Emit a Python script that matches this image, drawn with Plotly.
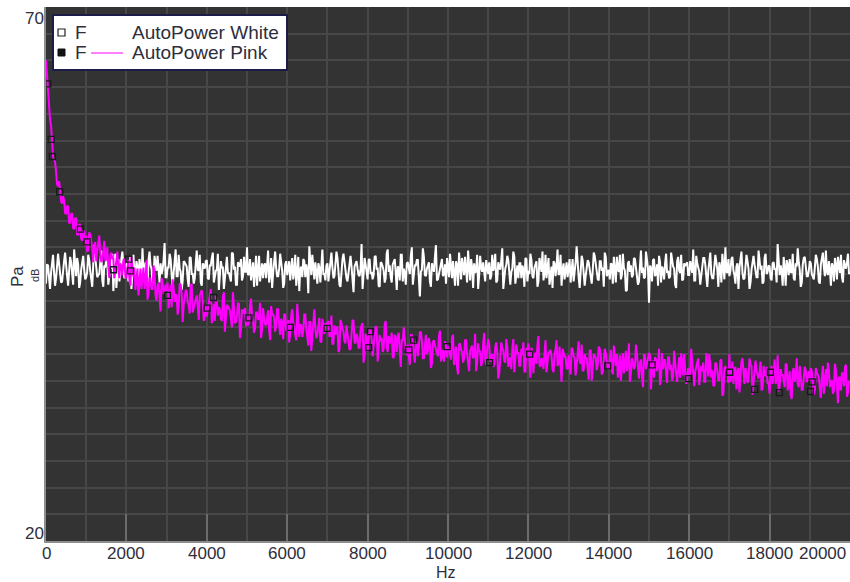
import plotly.graph_objects as go

# Spectrum sampling
FREQ_STEP_HZ = 25

# AutoPower of the white-noise channel (dB re Pa), one value per 25 Hz bin
white_db = [
    44.1, 45.9, 45.8, 44.6, 43.6, 45.1, 46.4, 46.8, 45.2, 43.9, 44.6, 45.7, 46.9, 46.0, 45.0, 44.2, 44.3, 45.6, 46.2, 47.0,
    45.5, 44.8, 43.9, 45.3, 46.6, 46.1, 45.1, 44.0, 47.3, 45.8, 44.8, 46.5, 45.9, 43.7, 44.2, 45.4, 46.3, 46.7, 45.4, 44.5,
    44.7, 45.2, 46.8, 46.3, 45.3, 44.1, 43.8, 45.9, 47.7, 46.6, 45.6, 44.7, 44.9, 45.0, 46.1, 47.2, 44.4, 43.8, 45.8, 45.6,
    46.5, 46.2, 44.0, 44.9, 45.7, 45.5, 46.9, 43.4, 45.2, 46.9, 43.7, 45.1, 46.4, 44.3, 45.0, 46.4, 47.1, 45.7, 44.6, 44.8,
    45.9, 46.0, 44.3, 45.3, 46.6, 43.6, 45.5, 46.8, 44.8, 44.9, 46.2, 45.7, 43.9, 46.4, 45.7, 44.4, 47.4, 45.2, 45.1, 46.1,
    44.5, 43.9, 46.3, 47.1, 45.8, 45.5, 44.1, 44.6, 46.7, 45.9, 45.3, 46.7, 44.9, 44.2, 46.0, 45.0, 45.4, 46.3, 47.9, 44.7,
    44.7, 45.6, 45.6, 46.9, 46.4, 44.3, 43.6, 45.1, 45.9, 47.3, 44.8, 44.8, 46.8, 45.5, 45.2, 43.5, 44.4, 46.2, 46.1, 45.8,
    45.7, 44.5, 43.8, 46.6, 46.5, 45.0, 45.0, 44.1, 44.6, 46.0, 47.2, 45.4, 45.3, 46.8, 44.2, 43.9, 46.0, 45.7, 45.5, 46.2,
    46.3, 44.6, 44.5, 45.8, 45.8, 46.5, 47.0, 44.2, 44.9, 45.3, 45.4, 46.9, 43.5, 44.8, 46.2, 45.6, 45.6, 43.6, 44.7, 46.3,
    46.6, 45.1, 45.1, 44.7, 44.3, 47.0, 46.9, 45.4, 45.7, 44.0, 44.0, 46.1, 45.9, 45.7, 46.4, 44.4, 44.8, 46.6, 45.2, 45.2,
    47.5, 44.9, 45.0, 46.4, 44.4, 45.2, 46.1, 43.8, 45.6, 46.7, 43.9, 45.5, 46.7, 44.3, 45.3, 46.0, 44.6, 45.8, 46.0, 44.6,
    45.8, 47.2, 44.2, 45.0, 46.5, 43.7, 45.1, 46.3, 47.1, 45.6, 44.8, 44.8, 45.5, 46.9, 46.3, 45.3, 43.7, 44.1, 45.9, 46.2,
    44.9, 45.7, 46.2, 44.4, 45.4, 46.5, 44.5, 45.1, 46.8, 43.9, 45.0, 46.6, 43.4, 45.4, 45.7, 44.7, 46.4, 46.2, 44.7, 45.9,
    45.3, 43.2, 47.6, 45.6, 44.9, 46.8, 45.8, 44.5, 46.1, 45.3, 44.1, 46.0, 45.6, 44.2, 46.6, 47.3, 45.0, 45.0, 44.4, 45.8,
    46.0, 44.3, 45.2, 46.1, 47.0, 45.6, 44.6, 44.8, 45.9, 47.1, 46.5, 45.2, 44.0, 43.8, 45.4, 46.4, 46.9, 45.9, 45.1, 44.6,
    44.3, 45.3, 46.3, 46.7, 45.7, 44.1, 43.3, 45.7, 46.1, 46.2, 45.5, 44.9, 44.8, 45.5, 47.8, 43.6, 45.0, 46.5, 45.9, 45.1,
    44.5, 46.3, 46.4, 45.0, 45.2, 44.5, 44.9, 46.6, 46.7, 45.4, 45.6, 43.9, 43.8, 46.1, 46.0, 45.7, 45.3, 44.2, 44.6, 46.9,
    47.3, 45.2, 45.8, 44.7, 44.2, 45.9, 46.2, 46.4, 45.1, 43.5, 45.7, 45.6, 44.4, 46.8, 46.8, 44.3, 45.5, 45.1, 44.0, 46.0,
    46.1, 45.4, 45.0, 46.7, 47.5, 44.0, 44.7, 45.8, 45.8, 46.3, 46.3, 44.6, 42.9, 45.2, 45.4, 47.4, 46.6, 44.9, 44.8, 45.5,
    45.9, 46.1, 44.3, 43.8, 46.0, 45.7, 45.2, 46.6, 47.7, 44.4, 44.5, 45.0, 45.6, 46.2, 46.4, 44.8, 45.0, 45.9, 44.1, 46.5,
    45.7, 44.7, 46.9, 45.5, 44.6, 46.2, 45.3, 43.9, 46.2, 45.8, 43.9, 47.0, 45.8, 44.5, 46.5, 45.3, 44.9, 46.6, 45.1, 44.2,
    47.2, 45.9, 44.4, 46.4, 45.6, 43.7, 46.0, 45.1, 45.3, 46.8, 43.6, 44.9, 46.7, 45.6, 45.2, 46.1, 44.8, 44.3, 46.3, 45.4,
    45.0, 46.1, 44.5, 44.8, 46.8, 45.3, 45.7, 46.9, 44.2, 44.4, 46.1, 45.7, 45.4, 46.3, 47.4, 43.6, 44.7, 45.5, 45.9, 46.7,
    46.3, 44.9, 44.0, 45.2, 45.5, 47.1, 46.6, 44.1, 45.1, 45.8, 44.6, 46.0, 46.0, 44.6, 45.8, 45.4, 43.8, 46.5, 46.4, 44.3,
    45.3, 45.0, 46.9, 46.3, 44.8, 44.6, 45.6, 45.9, 46.2, 43.8, 44.3, 46.5, 45.9, 45.2, 47.1, 44.4, 45.0, 46.8, 44.6, 45.6,
    46.5, 44.0, 45.2, 45.7, 43.7, 46.2, 46.0, 44.8, 45.7, 47.3, 44.9, 45.1, 46.8, 43.9, 45.4, 46.0, 44.5, 45.5, 46.1, 44.7,
    45.8, 46.4, 44.2, 45.2, 46.4, 44.3, 45.1, 46.1, 47.6, 45.6, 44.7, 43.7, 45.5, 46.7, 46.3, 45.0, 43.9, 44.8, 45.9, 46.3,
    46.1, 45.5, 44.6, 44.1, 45.3, 47.0, 46.7, 45.8, 45.0, 44.5, 44.4, 46.2, 46.2, 45.3, 45.6, 43.8, 47.0, 46.6, 44.8, 45.1,
    45.4, 44.5, 46.0, 45.9, 44.1, 46.6, 45.7, 44.2, 46.6, 45.4, 45.2, 46.8, 44.5, 44.9, 46.9, 45.6, 45.3, 43.4, 43.5, 46.0,
    46.2, 45.2, 45.8, 44.7, 44.9, 46.5, 46.4, 45.7, 45.1, 44.0, 44.3, 46.3, 47.2, 45.1, 45.6, 44.6, 44.7, 47.1, 46.1, 45.5,
    42.3, 45.8, 45.5, 44.3, 46.3, 46.4, 44.8, 45.0, 45.9, 43.9, 46.7, 46.1, 44.2, 45.7, 45.4, 44.5, 46.0, 46.9, 45.1, 45.3,
    44.6, 44.8, 47.0, 46.2, 45.7, 45.5, 44.0, 43.7, 46.2, 46.6, 45.3, 45.1, 46.8, 44.4, 44.5, 46.0, 45.8, 45.9, 46.1, 44.9,
    44.9, 46.2, 45.6, 45.1, 47.3, 44.4, 44.4, 46.7, 46.0, 45.5, 45.2, 44.0, 44.7, 45.9, 46.5, 46.5, 45.9, 44.8, 43.8, 45.3,
    46.3, 47.0, 45.0, 44.6, 44.6, 45.8, 46.8, 46.1, 45.4, 43.8, 46.1, 45.6, 44.2, 46.9, 45.7, 44.5, 47.5, 45.2, 45.1, 46.4,
    44.8, 45.3, 46.4, 46.6, 45.3, 44.9, 44.1, 45.7, 46.0, 43.6, 45.6, 46.3, 47.1, 45.1, 44.5, 44.6, 45.9, 46.8, 46.2, 45.5,
    43.6, 44.2, 45.4, 46.0, 46.7, 45.9, 45.0, 44.7, 44.7, 47.2, 46.3, 45.4, 45.8, 44.1, 44.3, 46.5, 46.9, 45.0, 45.2, 45.8,
    45.7, 44.6, 44.4, 46.0, 46.1, 45.4, 45.5, 44.2, 47.8, 46.7, 44.9, 45.8, 45.3, 43.9, 46.6, 45.5, 43.9, 46.3, 45.8, 44.9,
    46.4, 45.2, 45.1, 46.9, 44.6, 44.4, 46.0, 45.7, 47.4, 46.1, 45.4, 43.8, 44.2, 45.9, 46.5, 46.6, 45.9, 44.8, 44.8, 45.3,
    46.2, 46.0, 45.0, 44.7, 44.5, 45.6, 46.8, 46.4, 45.7, 44.3, 44.1, 45.9, 46.3, 47.0, 45.6, 44.8, 47.2, 45.2, 44.9, 46.2,
    45.4, 43.9, 46.0, 45.7, 44.3, 46.5, 45.8, 44.5, 46.6, 45.4, 45.1, 46.8, 44.7, 44.2, 46.3, 45.8, 45.5, 46.1, 46.9, 45.0,
    45.2,
]

# AutoPower of the pink-noise channel (dB re Pa), one value per 25 Hz bin
pink_db = [
    65.0, 63.6, 62.1, 60.2, 59.5, 58.9, 57.2, 56.0, 55.7, 55.5, 54.6, 53.4, 53.2, 53.7, 52.9, 51.8, 51.6, 52.3, 51.9, 50.7,
    50.6, 51.4, 51.3, 49.8, 49.8, 50.6, 50.7, 49.3, 49.2, 50.2, 50.2, 48.7, 48.7, 49.6, 49.6, 48.3, 48.1, 49.1, 48.9, 47.6,
    48.6, 47.1, 47.2, 48.9, 48.7, 48.0, 47.4, 46.1, 47.7, 48.0, 46.2, 47.1, 47.9, 48.6, 47.1, 46.1, 46.4, 47.0, 48.1, 46.2,
    46.4, 47.5, 45.7, 44.6, 46.8, 47.0, 46.4, 46.5, 44.6, 45.7, 46.8, 47.1, 45.5, 44.6, 46.0, 45.7, 44.9, 46.3, 46.4, 44.7,
    44.7, 45.7, 46.3, 44.4, 43.9, 46.6, 45.2, 44.7, 45.6, 43.5, 44.5, 45.5, 43.0, 44.9, 45.5, 43.6, 44.8, 45.6, 43.6, 44.3,
    46.3, 42.6, 43.2, 44.7, 44.2, 43.6, 43.6, 45.8, 45.1, 43.0, 42.5, 43.9, 44.2, 42.6, 41.5, 44.6, 44.3, 43.1, 43.4, 44.0,
    43.4, 44.2, 41.8, 42.8, 44.0, 41.9, 44.5, 43.7, 42.4, 43.1, 43.0, 41.2, 41.9, 44.1, 44.0, 43.2, 40.5, 42.1, 43.1, 43.5,
    43.4, 42.3, 42.1, 41.3, 44.0, 44.0, 41.4, 41.9, 42.1, 42.6, 43.0, 41.3, 40.7, 43.0, 43.2, 43.5, 42.4, 40.6, 41.2, 42.1,
    41.0, 41.8, 42.3, 42.8, 43.6, 40.4, 41.3, 42.2, 40.6, 43.0, 42.6, 41.1, 41.9, 41.7, 40.8, 40.6, 42.9, 43.3, 39.6, 41.1,
    42.1, 42.0, 41.7, 41.6, 40.8, 40.0, 43.3, 42.1, 40.4, 40.5, 41.1, 42.3, 42.2, 39.0, 39.8, 41.6, 41.6, 41.3, 41.8, 40.1,
    41.1, 40.2, 40.4, 42.0, 42.7, 41.2, 40.6, 39.5, 39.9, 41.4, 41.4, 40.7, 41.0, 42.3, 39.0, 39.8, 41.8, 40.9, 40.3, 40.2,
    41.1, 41.6, 39.8, 38.8, 42.0, 41.2, 41.2, 40.9, 39.6, 40.2, 41.7, 41.7, 40.2, 39.3, 40.8, 40.5, 38.9, 41.2, 41.2, 39.7,
    40.0, 40.7, 38.6, 39.5, 41.1, 41.7, 40.5, 39.9, 39.4, 38.8, 42.2, 40.8, 39.1, 40.3, 40.2, 39.1, 39.7, 41.2, 41.2, 39.9,
    38.7, 38.3, 40.5, 40.5, 37.8, 39.4, 40.7, 41.7, 39.9, 39.0, 39.3, 39.9, 40.9, 38.7, 38.6, 40.8, 40.0, 39.4, 40.4, 40.3,
    40.4, 40.6, 39.2, 39.2, 41.1, 38.4, 38.5, 40.2, 39.3, 39.6, 40.1, 37.7, 37.9, 40.7, 40.4, 39.8, 39.6, 38.7, 38.5, 40.2,
    39.4, 39.0, 37.9, 38.0, 40.1, 40.7, 40.6, 38.6, 38.5, 39.4, 39.1, 38.1, 38.1, 39.8, 40.2, 40.4, 36.7, 37.5, 39.4, 39.0,
    37.7, 38.7, 39.8, 39.8, 39.0, 37.3, 38.0, 39.2, 40.1, 40.0, 36.8, 38.1, 39.3, 38.7, 39.0, 37.7, 38.0, 40.3, 40.6, 38.2,
    37.7, 39.2, 38.5, 38.7, 39.5, 37.2, 37.2, 39.3, 39.0, 37.7, 39.2, 39.5, 37.4, 36.3, 38.8, 38.8, 40.0, 38.6, 37.8, 37.4,
    38.4, 37.4, 36.5, 39.3, 39.3, 38.5, 37.7, 36.7, 38.6, 38.7, 37.3, 38.0, 39.5, 39.6, 38.8, 37.1, 37.1, 38.2, 39.3, 37.5,
    37.8, 39.0, 38.4, 36.2, 36.6, 38.6, 38.8, 38.3, 38.0, 37.6, 37.3, 39.2, 39.7, 36.8, 37.5, 37.9, 36.8, 38.7, 38.4, 37.2,
    37.9, 38.2, 37.4, 37.0, 39.0, 39.3, 36.5, 37.4, 38.2, 36.3, 35.6, 38.4, 38.5, 37.9, 37.7, 36.7, 37.1, 38.8, 38.8, 37.5,
    36.4, 35.9, 37.8, 38.1, 38.3, 37.1, 37.3, 39.4, 35.9, 36.7, 38.5, 37.7, 37.8, 36.4, 36.7, 38.5, 39.5, 37.1, 36.5, 38.1,
    38.9, 38.4, 36.8, 37.1, 37.5, 36.3, 36.5, 38.1, 38.6, 37.6, 35.2, 35.7, 37.8, 38.6, 38.1, 37.8, 36.9, 36.7, 38.9, 38.2,
    36.3, 37.1, 37.1, 36.1, 38.0, 38.9, 35.8, 36.8, 38.4, 37.6, 37.6, 36.4, 36.4, 38.0, 37.4, 38.6, 35.9, 35.8, 38.1, 37.3,
    38.5, 37.0, 35.3, 38.1, 37.8, 35.7, 37.5, 37.6, 36.6, 38.4, 39.2, 36.5, 36.3, 37.1, 37.0, 36.1, 38.1, 38.8, 35.8, 36.7,
    37.6, 37.7, 37.9, 37.3, 36.1, 35.8, 37.5, 37.9, 38.8, 36.4, 36.6, 38.2, 35.9, 34.9, 38.0, 37.5, 37.2, 37.3, 36.2, 36.1,
    37.4, 36.2, 35.6, 38.1, 37.9, 37.3, 37.1, 35.5, 36.3, 37.5, 38.7, 36.8, 36.6, 38.4, 35.9, 36.0, 37.5, 37.1, 37.1, 36.3,
    35.1, 37.8, 37.9, 35.0, 36.4, 37.5, 37.3, 37.2, 36.0, 36.5, 38.2, 38.0, 37.4, 35.6, 35.8, 36.8, 38.0, 37.6, 36.5, 36.1,
    36.2, 37.2, 37.9, 36.0, 35.6, 38.3, 37.0, 36.4, 37.5, 35.3, 36.4, 37.4, 35.0, 36.9, 37.6, 35.7, 37.0, 37.8, 35.9, 36.5,
    38.5, 34.9, 35.7, 37.1, 36.8, 36.1, 36.3, 38.4, 37.5, 35.7, 35.2, 36.7, 37.0, 35.4, 34.4, 37.5, 37.3, 36.1, 36.5, 37.1,
    37.6, 37.4, 34.2, 36.1, 36.9, 35.3, 37.2, 37.0, 35.9, 36.5, 38.0, 34.6, 35.3, 37.6, 36.1, 36.8, 37.0, 35.7, 34.8, 37.2,
    37.2, 36.0, 36.5, 35.0, 35.4, 37.8, 36.4, 35.7, 34.9, 36.5, 37.2, 35.3, 37.6, 36.9, 35.5, 37.5, 36.2, 34.7, 35.2, 36.2,
    35.4, 35.8, 38.0, 36.9, 35.1, 34.5, 35.9, 36.3, 36.9, 37.1, 34.6, 35.3, 36.4, 35.9, 36.7, 34.9, 34.9, 37.6, 36.3, 35.4,
    37.5, 36.4, 35.3, 36.0, 34.6, 34.5, 36.7, 36.6, 36.0, 35.1, 35.0, 36.9, 37.0, 33.6, 33.8, 36.2, 36.3, 36.0, 36.0, 34.8,
    37.5, 34.9, 35.4, 36.8, 34.7, 36.0, 36.3, 34.2, 35.8, 36.2, 33.9, 35.5, 36.8, 37.1, 35.3, 34.7, 36.2, 35.8, 34.8, 35.0,
    37.1, 36.5, 36.4, 33.7, 34.8, 36.2, 36.9, 35.9, 35.5, 35.2, 35.8, 36.8, 34.1, 34.3, 36.4, 35.5, 35.5, 36.3, 34.8, 34.8,
    33.8, 35.9, 36.4, 34.7, 35.8, 37.0, 34.7, 35.2, 37.4, 34.0, 34.5, 36.1, 35.5, 35.6, 35.0, 34.4, 36.6, 36.5, 34.1, 35.3,
    35.9, 33.7, 33.3, 35.9, 36.2, 34.9, 35.3, 37.1, 34.7, 34.4, 36.4, 35.4, 34.1, 34.2, 35.5, 36.3, 36.0, 34.9, 35.0, 35.9,
    35.0, 36.2, 35.9, 34.9, 33.7, 34.1, 36.2, 35.8, 35.4, 35.3, 34.3, 33.4, 35.3, 36.4, 33.8, 35.6, 36.1, 34.5, 36.7, 36.0,
    34.4, 34.8, 35.1, 33.8, 34.1, 36.6, 36.0, 34.5, 32.9, 35.3, 35.3, 34.1, 35.7, 35.7, 34.5, 36.3, 36.5, 33.5, 33.9, 35.0,
    34.8,
]

# Marked points ("F") on the pink channel
pink_mark_hz = [43, 127, 160, 341, 856, 1022, 1680, 2058, 2100, 3020, 4007, 4172, 5050, 6080,
                6992, 8028, 8070, 9023, 9147, 9977, 11037, 12032, 13973, 15077, 15988, 17008,
                17630, 18020, 18244, 19015, 19057]
pink_mark_db = [62.8, 57.6, 56.0, 52.7, 49.2, 48.0, 45.4, 46.4, 45.3, 43.0, 41.8, 42.8, 40.9, 40.0,
                39.9, 38.1, 39.6, 37.9, 38.8, 38.2, 36.7, 37.5, 36.4, 36.5, 35.2, 35.8,
                34.2, 35.8, 33.9, 34.0, 34.9]

# Axis ticks
x_tick_vals = [0, 2000, 4000, 6000, 8000, 10000, 12000, 14000, 16000, 18000]
x_tick_text = ["0", "2000", "4000", "6000", "8000", "10000", "12000", "14000", "16000", "18000"]
x_last_label = "20000"
y_min_label, y_max_label = "20", "70"

series_names = ["AutoPower White", "AutoPower Pink"]

white_hz = [i * FREQ_STEP_HZ for i in range(len(white_db))]
pink_hz = [i * FREQ_STEP_HZ for i in range(len(pink_db))]

W, H = 850, 582
ML, MR, MT, MB = 46, 0, 7, 41
PW, PH = W - ML - MR, H - MT - MB


def px(x):
    return (x - ML) / PW


def py(y):
    return 1 - (y - MT) / PH


FONT = "Liberation Sans, Arial, sans-serif"
TXT = "#2e2e3c"
GRID = "#474747"

fig = go.Figure()
fig.add_trace(go.Scatter(x=white_hz, y=white_db, mode="lines",
                         line=dict(color="#ffffff", width=2), name=series_names[0],
                         showlegend=False))
fig.add_trace(go.Scatter(x=pink_hz, y=pink_db, mode="lines",
                         line=dict(color="#ff00ff", width=2), name=series_names[1],
                         showlegend=False))
fig.add_trace(go.Scatter(x=pink_mark_hz, y=pink_mark_db, mode="markers",
                         marker=dict(symbol="square-open", size=6, color="#1a1a1a",
                                     line=dict(width=1.3, color="#1a1a1a")),
                         showlegend=False))

shapes = [
    # legend frame
    dict(type="rect", xref="paper", yref="paper", x0=px(53), x1=px(287), y0=py(15), y1=py(70),
         fillcolor="#ffffff", line=dict(color="#1c1c48", width=2), layer="above"),
    # legend symbols
    dict(type="rect", xref="paper", yref="paper", x0=px(58), x1=px(65), y0=py(29), y1=py(36),
         fillcolor="#ffffff", line=dict(color="#222222", width=1.2), layer="above"),
    dict(type="rect", xref="paper", yref="paper", x0=px(58), x1=px(65), y0=py(49), y1=py(56),
         fillcolor="#111111", line=dict(color="#111111", width=1), layer="above"),
    dict(type="line", xref="paper", yref="paper", x0=px(91), x1=px(123), y0=py(53), y1=py(53),
         line=dict(color="#ff55ff", width=1.5), layer="above"),
]

ann = []


def label(text, x, y, size, xanchor="center", angle=0):
    ann.append(dict(text=text, xref="paper", yref="paper", x=px(x), y=py(y),
                    xanchor=xanchor, yanchor="middle", showarrow=False, textangle=angle,
                    font=dict(family=FONT, size=size, color=TXT)))


label("F", 73, 32, 19, "left")
label(series_names[0], 130, 32, 19, "left")
label("F", 73, 53, 19, "left")
label(series_names[1], 130, 53, 19, "left")
label(y_max_label, 34, 18, 17)
label(y_min_label, 34, 533, 17)
label(x_last_label, 848, 553, 17, "right")
label("Hz", 446, 572, 16)
label("Pa", 17, 276, 17, angle=-90)
label("dB", 35, 276, 11, angle=-90)

# x tick labels sit just under the axis line
for v, t in zip(x_tick_vals, x_tick_text):
    ann.append(dict(text=t, xref="x", yref="paper", x=v, y=py(553), xanchor="center",
                    yanchor="middle", showarrow=False,
                    font=dict(family=FONT, size=17, color=TXT)))

fig.update_layout(
    width=W, height=H,
    margin=dict(l=ML, r=MR, t=MT, b=MB),
    paper_bgcolor="#ffffff", plot_bgcolor="#333333",
    showlegend=False,
    shapes=shapes, annotations=ann,
    font=dict(family=FONT, size=17, color=TXT),
)
fig.update_xaxes(
    range=[0, 20000], tickmode="array", tickvals=x_tick_vals, showticklabels=False,
    ticks="inside", ticklen=27, tickwidth=2, tickcolor="#6c6c6c",
    showgrid=True, gridcolor=GRID, gridwidth=2,
    minor=dict(dtick=1000, tick0=0, showgrid=True, gridcolor=GRID, gridwidth=2, ticks=""),
    showline=True, linecolor="#8e8e8e", linewidth=2, zeroline=False,
)
fig.update_yaxes(
    range=[20, 70], dtick=2.5, tick0=20, showticklabels=False, ticks="",
    showgrid=True, gridcolor=GRID, gridwidth=2,
    showline=True, linecolor="#8e8e8e", linewidth=2, zeroline=False,
)

fig.write_html("out.html")
